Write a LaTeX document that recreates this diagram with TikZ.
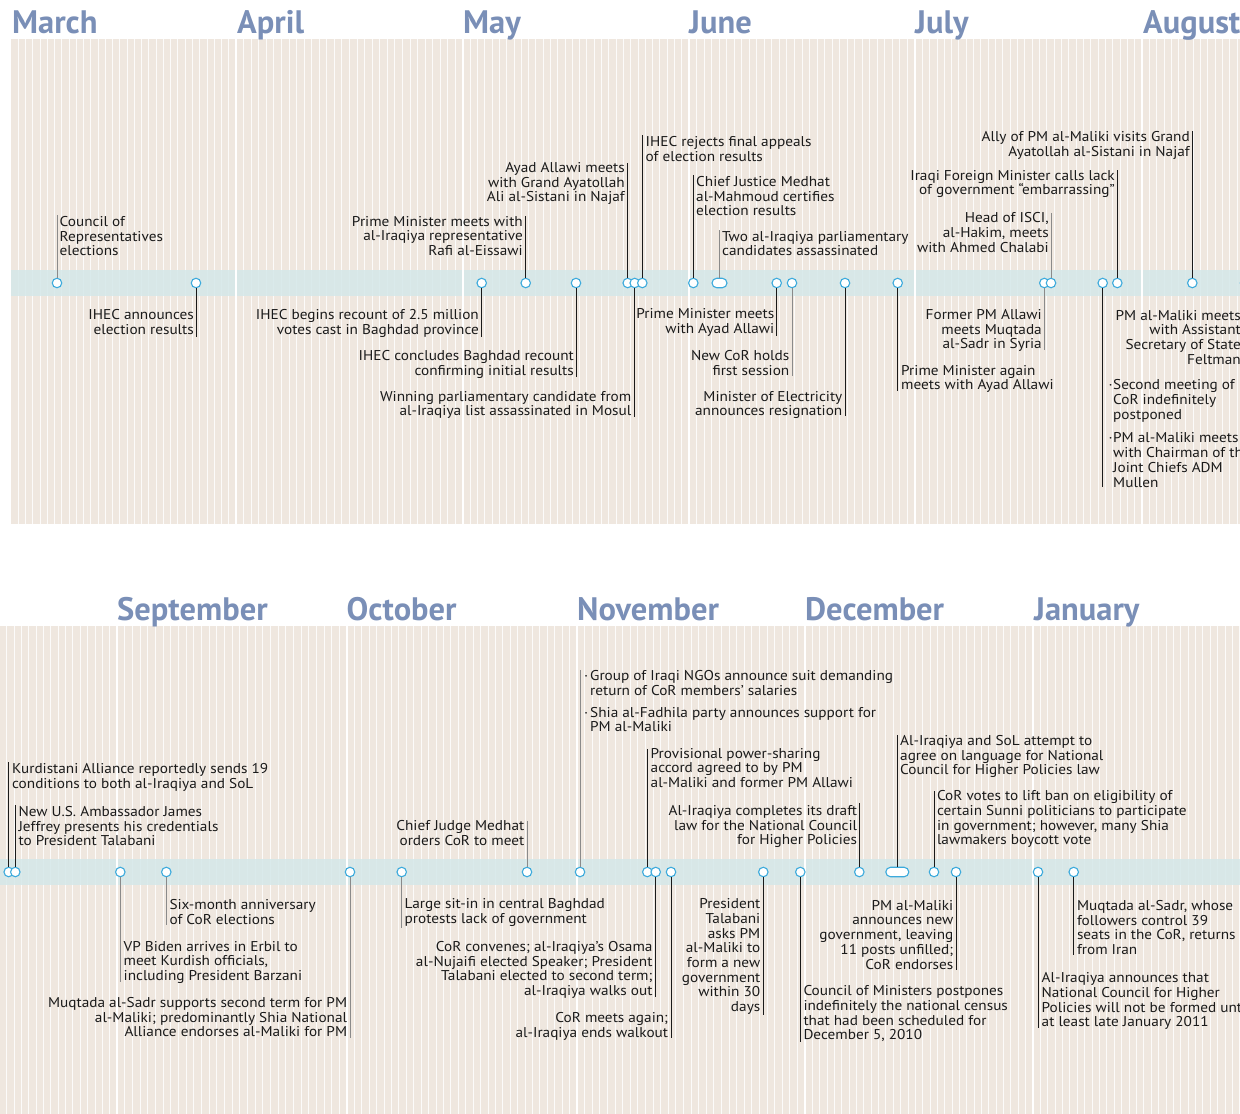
\documentclass[tikz,border=0pt]{standalone}
\usepackage{fontspec}
\setmainfont{PT Sans}[FakeStretch=1.075]
\newfontfamily\monfont{PT Sans}
\usetikzlibrary{shapes.misc}
\definecolor{bgc}{HTML}{EFE7DF}
\definecolor{bandc}{HTML}{D5E8E9}
\definecolor{dotc}{HTML}{3CAADC}
\definecolor{monc}{HTML}{7A8FB7}
\definecolor{inkc}{HTML}{1A1A1A}
\definecolor{grayc}{HTML}{8A8A8A}
\newcommand\mstripes[5]{%
  \pgfmathsetmacro\sdx{(#2-#1)/#3}%
  \pgfmathtruncatemacro\snn{#3-1}%
  \foreach \i in {1,...,\snn}{\draw[white,line width=0.9pt,opacity=0.85] ({#1+\i*\sdx},#4) -- ({#1+\i*\sdx},#5);}%
}
\newcommand\evt[9]{%
  \node[#3] (#1) at (#2,\by) {};
  \coordinate (#1e) at (#2,#4);
  \draw[#5] (#1) -- (#1e);
  \node[#6] (#1t) at (#7,#8) {#9};
}
\begin{document}
\begin{tikzpicture}[x=1pt,y=-1pt,
  dot/.style={circle, draw=dotc, fill=white, line width=1.1pt, minimum size=9.5pt, inner sep=0pt},
  pill/.style={rounded rectangle, draw=dotc, fill=white, line width=1.1pt, minimum height=9.5pt, inner sep=0pt},
  conn/.style={line width=0.9pt, draw=inkc},
  connG/.style={line width=0.9pt, draw=grayc},
  lbl/.style={inner sep=0pt, font=\fontsize{14.2}{14.7}\selectfont, text=inkc},
  lblL/.style={lbl, anchor=north west, align=left},
  lblR/.style={lbl, anchor=north east, align=right},
  mon/.style={anchor=base west, inner sep=0pt, font=\monfont\fontsize{32.5}{32.5}\selectfont\bfseries, text=monc},
  mline/.style={white, line width=2pt}
]
\useasboundingbox (0,0) rectangle (1240,1114);
\clip (0,0) rectangle (1240,1114);
% ---------- top panel ----------
\fill[bgc] (11,39) rectangle (1241,524);
\mstripes{11}{236}{31}{39}{524}
\mstripes{236}{463}{30}{39}{524}
\mstripes{463}{689}{31}{39}{524}
\mstripes{689}{915}{30}{39}{524}
\mstripes{915}{1142}{31}{39}{524}
\mstripes{1142}{1369}{31}{39}{524}
\fill[bandc,opacity=0.85] (11,270) rectangle (1241,296);
\foreach \mx in {236,463,689,915,1142}{\draw[mline] (\mx,39) -- (\mx,524);}
\node[mon] (mMar) at (12,33) {March};
\node[mon] (mApr) at (237,33) {April};
\node[mon] (mMay) at (463,33) {May};
\node[mon] (mJun) at (689,33) {June};
\node[mon] (mJul) at (915,33) {July};
\node[mon] (mAug) at (1143,33) {August};
% ---------- bottom panel ----------
\fill[bgc] (-1,626) rectangle (1241,1115);
\mstripes{-0.5}{117}{16}{626}{1115}
\mstripes{117}{347}{30}{626}{1115}
\mstripes{347}{577}{31}{626}{1115}
\mstripes{577}{805}{30}{626}{1115}
\mstripes{805}{1033}{31}{626}{1115}
\mstripes{1033}{1262}{31}{626}{1115}
\fill[bandc,opacity=0.85] (-1,859) rectangle (1241,885);
\foreach \mx in {117,347,577,805,1033}{\draw[mline] (\mx,626) -- (\mx,1115);}
\node[mon] (mSep) at (117,620) {September};
\node[mon] (mOct) at (346.5,620) {October};
\node[mon] (mNov) at (577,620) {November};
\node[mon] (mDec) at (805,620) {December};
\node[mon] (mJan) at (1034,620) {January};
% ---------- top events ----------
\def\by{283}
\evt{t1}{57}{dot}{215}{connG}{lblL}{59.5}{216}{Council of\\Representatives\\elections}
\evt{t2}{196}{dot}{337}{conn}{lblR}{194}{309}{IHEC announces\\election results}
\evt{t3}{481.7}{dot}{337}{conn}{lblR}{479}{309}{IHEC begins recount of 2.5 million\\votes cast in Baghdad province}
\evt{t4}{525.7}{dot}{215.5}{conn}{lblR}{523}{216}{Prime Minister meets with\\al-Iraqiya representative\\Rafi al-Eissawi}
\evt{t5}{576}{dot}{377}{conn}{lblR}{574}{350}{IHEC concludes Baghdad recount\\confirming initial results}
\evt{t6}{627.7}{dot}{163}{conn}{lblR}{625}{162}{Ayad Allawi meets\\with Grand Ayatollah\\Ali al-Sistani in Najaf}
\evt{t7}{634.7}{dot}{417}{conn}{lblR}{631.5}{391}{Winning parliamentary candidate from\\al-Iraqiya list assassinated in Mosul}
\evt{t8}{642.3}{dot}{135}{conn}{lblL}{645.5}{136}{IHEC rejects final appeals\\of election results}
\evt{t9}{693.3}{dot}{175}{conn}{lblL}{696}{176}{Chief Justice Medhat\\al-Mahmoud certifies\\election results}
\evt{t10}{719.5}{pill,minimum width=15pt}{230}{connG}{lblL}{722}{231}{Two al-Iraqiya parliamentary\\candidates assassinated}
\evt{t11}{776.7}{dot}{336}{conn}{lblR}{774.5}{308.5}{Prime Minister meets\\with Ayad Allawi}
\evt{t12}{792}{dot}{376}{connG}{lblR}{789.5}{350}{New CoR holds\\first session}
\evt{t13}{845}{dot}{416}{conn}{lblR}{842.5}{391}{Minister of Electricity\\announces resignation}
\evt{t14}{897.7}{dot}{391}{conn}{lblL}{901}{365}{Prime Minister again\\meets with Ayad Allawi}
\evt{t15}{1044.3}{dot}{350}{connG}{lblR}{1042}{309}{Former PM Allawi\\meets Muqtada\\al-Sadr in Syria}
\evt{t16}{1051}{dot}{213}{connG}{lblR}{1049}{212.5}{Head of ISCI,\\al-Hakim, meets\\with Ahmed Chalabi}
\evt{t17}{1102.7}{dot}{487}{conn}{lblL}{1113}{379.5}{\llap{·\kern0.5pt}Second meeting of\\CoR indefinitely\\postponed\\[9pt]\llap{·\kern0.5pt}PM al-Maliki meets\\with Chairman of the\\Joint Chiefs ADM\\Mullen}
\evt{t18}{1117.3}{dot}{170}{conn}{lblR}{1115}{170}{Iraqi Foreign Minister calls lack\\of government “embarrassing”}
\evt{t19}{1192.3}{dot}{131}{conn}{lblR}{1190}{131}{Ally of PM al-Maliki visits Grand\\Ayatollah al-Sistani in Najaf}
\evt{t20}{1245}{dot}{370}{conn}{lblR}{1241}{310}{PM al-Maliki meets\\with Assistant\\Secretary of State\\Feltman}
% ---------- bottom events ----------
\def\by{872}
\evt{b1}{8.7}{dot}{762}{conn}{lblL}{12}{763}{Kurdistani Alliance reportedly sends 19\\conditions to both al-Iraqiya and SoL}
\evt{b2}{15.3}{dot}{805}{conn}{lblL}{18.3}{806}{New U.S. Ambassador James\\Jeffrey presents his credentials\\to President Talabani}
\evt{b3}{120.3}{dot}{982}{connG}{lblL}{123.5}{941}{VP Biden arrives in Erbil to\\meet Kurdish officials,\\including President Barzani}
\evt{b4}{166.3}{dot}{925}{connG}{lblL}{169.3}{899}{Six-month anniversary\\of CoR elections}
\evt{b5}{350}{dot}{1038}{connG}{lblR}{347.3}{997}{Muqtada al-Sadr supports second term for PM\\al-Maliki; predominantly Shia National\\Alliance endorses al-Maliki for PM}
\evt{b6}{401.7}{dot}{928}{connG}{lblL}{404.5}{898.5}{Large sit-in in central Baghdad\\protests lack of government}
\evt{b7}{527}{dot}{820.5}{connG}{lblR}{524.5}{820}{Chief Judge Medhat\\orders CoR to meet}
\evt{b8}{580}{dot}{670}{connG}{lblL}{590}{670}{\llap{·\kern2pt}Group of Iraqi NGOs announce suit demanding\\return of CoR members’ salaries\\[7.3pt]\llap{·\kern2pt}Shia al-Fadhila party announces support for\\PM al-Maliki}
\evt{b9}{647.3}{dot}{748.5}{conn}{lblL}{650.5}{748}{Provisional power-sharing\\accord agreed to by PM\\al-Maliki and former PM Allawi}
\evt{b10}{655.7}{dot}{997}{conn}{lblR}{652.7}{941}{CoR convenes; al-Iraqiya’s Osama\\al-Nujaifi elected Speaker; President\\Talabani elected to second term;\\al-Iraqiya walks out}
\evt{b11}{671}{dot}{1038}{conn}{lblR}{668.3}{1012}{CoR meets again;\\al-Iraqiya ends walkout}
\evt{b12}{763.3}{dot}{1015}{conn}{lblR}{760.5}{898.5}{President\\Talabani\\asks PM\\al-Maliki to\\form a new\\government\\within 30\\days}
\evt{b13}{800.3}{dot}{1042}{conn}{lblL}{803.3}{985.5}{Council of Ministers postpones\\indefinitely the national census\\that had been scheduled for\\December 5, 2010}
\evt{b14}{859.3}{dot}{803.3}{conn}{lblR}{857.3}{805}{Al-Iraqiya completes its draft\\law for the National Council\\for Higher Policies}
\evt{b15}{897.3}{pill,minimum width=23pt}{735}{conn}{lblL}{900}{735}{Al-Iraqiya and SoL attempt to\\agree on language for National\\Council for Higher Policies law}
\evt{b16}{934}{dot}{791}{conn}{lblL}{936.8}{790.5}{CoR votes to lift ban on eligibility of\\certain Sunni politicians to participate\\in government; however, many Shia\\lawmakers boycott vote}
\evt{b17}{956}{dot}{970}{conn}{lblR}{953.5}{900}{PM al-Maliki\\announces new\\government, leaving\\11 posts unfilled;\\CoR endorses}
\evt{b18}{1038}{dot}{1028}{conn}{lblL}{1041.5}{972.5}{Al-Iraqiya announces that\\National Council for Higher\\Policies will not be formed until\\at least late January 2011}
\evt{b19}{1073.7}{dot}{955}{conn}{lblL}{1076.8}{900}{Muqtada al-Sadr, whose\\followers control 39\\seats in the CoR, returns\\from Iran}
\end{tikzpicture}
\end{document}
